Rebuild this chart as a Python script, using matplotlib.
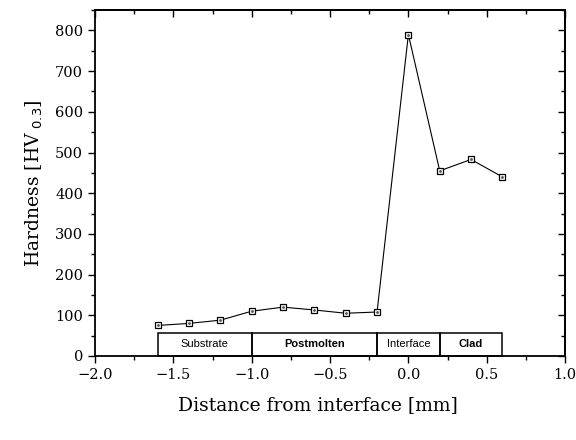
import matplotlib
matplotlib.use("Agg")
import matplotlib.pyplot as plt
from matplotlib.patches import Rectangle
from matplotlib.ticker import MultipleLocator

distance = [-1.6, -1.4, -1.2, -1.0, -0.8, -0.6, -0.4, -0.2, 0.0, 0.2, 0.4, 0.6]
hardness = [75, 80, 88, 110, 120, 113, 105, 108, 790, 455, 483, 440]

region_edges = [-1.6, -1.0, -0.2, 0.2, 0.6]
region_labels = ["Substrate", "Postmolten", "Interface", "Clad"]
region_weights = ["normal", "bold", "normal", "bold"]
region_height = 57

plt.rcParams['font.family'] = ['DejaVu Serif']

fig = plt.figure(figsize=(5.76, 4.4), dpi=100)
ax = fig.add_axes([0.165, 0.191, 0.816, 0.786])

ax.plot(distance, hardness, color='black', lw=0.8, marker='s', markersize=5,
        mfc='white', mec='black', mew=0.9, zorder=3)
ax.plot(distance, hardness, ls='none', marker='.', markersize=2, color='#555555', zorder=4)

for i, lab in enumerate(region_labels):
    x0, x1 = region_edges[i], region_edges[i + 1]
    ax.add_patch(Rectangle((x0, 0), x1 - x0, region_height, fill=False,
                           edgecolor='black', lw=1.1, zorder=2, clip_on=False))
    ax.text((x0 + x1) / 2, region_height / 2, lab, ha='center', va='center',
            fontsize=8, fontweight=region_weights[i],
            family=['Liberation Sans', 'DejaVu Sans'], zorder=3)

ax.set_xlim(-2.0, 1.0)
ax.set_ylim(0, 850)
ax.xaxis.set_major_locator(MultipleLocator(0.5))
ax.xaxis.set_minor_locator(MultipleLocator(0.25))
ax.yaxis.set_major_locator(MultipleLocator(100))
ax.yaxis.set_minor_locator(MultipleLocator(50))
ax.set_yticks(range(0, 801, 100))

ax.tick_params(which='both', direction='out', top=False, right=False,
               labelsize=10.5, width=1.0)
ax.tick_params(which='major', length=5)
ax.tick_params(which='minor', length=3)

# inward ticks on top and right
ax_t = ax.secondary_xaxis('top')
ax_t.xaxis.set_major_locator(MultipleLocator(0.5))
ax_t.xaxis.set_minor_locator(MultipleLocator(0.25))
ax_t.tick_params(which='both', direction='in', labeltop=False, width=1.0)
ax_t.tick_params(which='major', length=5)
ax_t.tick_params(which='minor', length=3)
ax_r = ax.secondary_yaxis('right')
ax_r.yaxis.set_major_locator(MultipleLocator(100))
ax_r.yaxis.set_minor_locator(MultipleLocator(50))
ax_r.tick_params(which='both', direction='in', labelright=False, width=1.0)
ax_r.tick_params(which='major', length=5)
ax_r.tick_params(which='minor', length=3)
ax_t.spines['top'].set_linewidth(1.3)
ax_r.spines['right'].set_linewidth(1.3)

for s in ax.spines.values():
    s.set_linewidth(1.3)

ax.set_xlabel('Distance from interface [mm]', fontsize=13.5, labelpad=8)
ax.xaxis.set_label_coords(0.475, -0.115)
ax.set_ylabel('Hardness [HV$_{\\ 0.3}$]', fontsize=13.5, labelpad=7)

fig.savefig('out.png', dpi=100)
